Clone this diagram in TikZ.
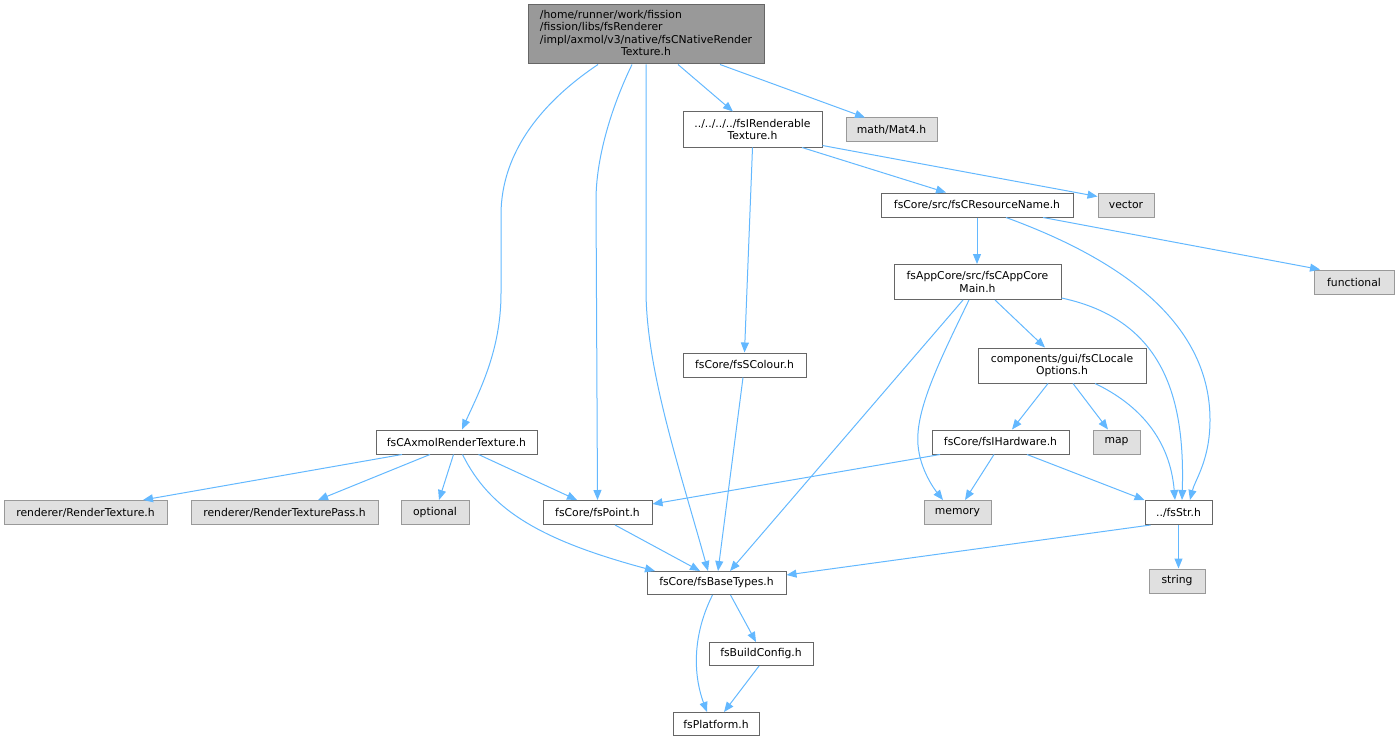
\documentclass[tikz,border=0pt]{standalone}
\usepackage{fontspec}
\newfontfamily\djv{DejaVu Sans}
\usetikzlibrary{arrows.meta}
\definecolor{eb}{HTML}{63B8FF}
\definecolor{bd}{HTML}{666666}
\definecolor{bx}{HTML}{999999}
\definecolor{fe}{HTML}{E0E0E0}
\definecolor{fm}{HTML}{999999}
\tikzset{
  base/.style={draw=bd, line width=1pt, inner sep=0pt, align=center,
    font=\djv\fontsize{10.8}{12.3}\selectfont},
  real/.style={base, fill=white},
  ext/.style={base, draw=bx, fill=fe},
  topnode/.style={base, fill=fm},
  dep/.style={draw=eb, line width=1pt, -{Triangle[length=10pt,width=8pt]}}
}
\begin{document}
\begin{tikzpicture}[x=1pt,y=-1pt]
\useasboundingbox (0,0) rectangle (1399,741);
% nodes
\node[topnode, minimum width=236pt, minimum height=59pt] (main) at (646,34.5)
  {\begin{tabular}{@{}l@{}}/home/runner/work/fission\\/fission/libs/fsRenderer\\/impl/axmol/v3/native/fsCNativeRender\\\multicolumn{1}{@{}c@{}}{Texture.h}\end{tabular}};
\node[real, minimum width=139pt, minimum height=35pt] (rend) at (752.5,129.5) {../../../../fsIRenderable\\Texture.h};
\node[ext, minimum width=91pt, minimum height=23pt] (mat4) at (891.5,129.5) {math/Mat4.h};
\node[real, minimum width=192pt, minimum height=24pt] (resn) at (977,205) {fsCore/src/fsCResourceName.h};
\node[ext, minimum width=56pt, minimum height=24pt] (vec) at (1126,205) {vector};
\node[real, minimum width=167pt, minimum height=35pt] (appc) at (977.5,282) {fsAppCore/src/fsCAppCore\\Main.h};
\node[ext, minimum width=80pt, minimum height=24pt] (func) at (1354,282) {functional};
\node[real, minimum width=168pt, minimum height=35pt] (comp) at (1062,365.5) {components/gui/fsCLocale\\Options.h};
\node[real, minimum width=123pt, minimum height=24pt] (col) at (744.5,365) {fsCore/fsSColour.h};
\node[real, minimum width=161pt, minimum height=24pt] (axm) at (456.5,442) {fsCAxmolRenderTexture.h};
\node[real, minimum width=137pt, minimum height=24pt] (hw) at (1000.5,442) {fsCore/fsIHardware.h};
\node[ext, minimum width=47pt, minimum height=24pt] (map) at (1116.5,442) {map};
\node[ext, minimum width=163pt, minimum height=24pt] (rt) at (85.5,512.5) {renderer/RenderTexture.h};
\node[ext, minimum width=187pt, minimum height=24pt] (rtp) at (284.5,512.5) {renderer/RenderTexturePass.h};
\node[ext, minimum width=68pt, minimum height=24pt] (opt) at (435,512.5) {optional};
\node[real, minimum width=109pt, minimum height=24pt] (pt) at (597.5,512.5) {fsCore/fsPoint.h};
\node[ext, minimum width=67pt, minimum height=24pt] (mem) at (957.5,512.5) {memory};
\node[real, minimum width=67pt, minimum height=24pt] (str) at (1178.5,512.5) {../fsStr.h};
\node[real, minimum width=139pt, minimum height=23pt] (bt) at (716.5,583) {fsCore/fsBaseTypes.h};
\node[ext, minimum width=56pt, minimum height=24pt] (strg) at (1177,581) {string};
\node[real, minimum width=104pt, minimum height=23pt] (bc) at (761,654) {fsBuildConfig.h};
\node[real, minimum width=86pt, minimum height=23pt] (plat) at (716,724) {fsPlatform.h};
% edges
\draw[dep] ([xshift=-48pt]main.south) .. controls (545,100) and (501,150) .. (501,215) -- (501,293) .. controls (501,350) and (480,390) .. ([xshift=5.5pt]axm.north);
\draw[dep] ([xshift=-14pt]main.south) .. controls (610,110) and (596,160) .. (596,200) -- (pt.north);
\draw[dep] (main.south) -- (646,290) .. controls (646,370) and (680,470) .. ([xshift=-8.5pt]bt.north);
\draw[dep] ([xshift=32pt]main.south) -- ([xshift=-19.5pt]rend.north);
\draw[dep] ([xshift=74pt]main.south) -- ([xshift=-26.5pt]mat4.north);
\draw[dep] ([xshift=49.5pt]rend.south) -- ([xshift=-31pt]resn.north);
\draw[dep] ([yshift=2pt]rend.south east) -- ([yshift=-4pt]vec.north west);
\draw[dep] (rend.south) -- (col.north);
\draw[dep] (resn.south) -- (resn.south |- appc.north);
\draw[dep] ([xshift=29pt]resn.south) .. controls (1150,270) and (1210,340) .. (1210,420) .. controls (1210,460) and (1195,480) .. ([xshift=11.5pt]str.north);
\draw[dep] ([xshift=66pt]resn.south) -- ([xshift=-34pt]func.north);
\draw[dep] ([xshift=17.5pt]appc.south) -- ([xshift=-17pt]comp.north);
\draw[dep] ([yshift=2pt]appc.south east) .. controls (1165,320) and (1185,400) .. ([xshift=3.5pt]str.north);
\draw[dep] ([xshift=-8.5pt]appc.south) .. controls (940,360) and (915,410) .. (918,445) .. controls (920,470) and (935,490) .. ([xshift=-14.5pt]mem.north);
\draw[dep] ([xshift=-14.5pt]appc.south) -- ([xshift=13.5pt]bt.north);
\draw[dep] ([xshift=-14pt]comp.south) -- ([xshift=11.5pt]hw.north);
\draw[dep] ([xshift=11pt]comp.south) -- ([xshift=-8.5pt]map.north);
\draw[dep] ([xshift=33pt]comp.south) .. controls (1140,405) and (1170,440) .. ([xshift=-3.5pt]str.north);
\draw[dep] ([xshift=-60.5pt]hw.south) -- ([yshift=-4pt]pt.north east);
\draw[dep] ([xshift=-6.5pt]hw.south) -- ([xshift=7.5pt]mem.north);
\draw[dep] ([xshift=26.5pt]hw.south) -- (str.north west);
\draw[dep] ([xshift=-54.5pt]axm.south) -- ([xshift=57.5pt]rt.north);
\draw[dep] ([xshift=-26.5pt]axm.south) -- ([xshift=33.5pt]rtp.north);
\draw[dep] ([xshift=-3pt]axm.south) -- ([xshift=4pt]opt.north);
\draw[dep] ([xshift=22pt]axm.south) -- ([xshift=-20.5pt]pt.north);
\draw[dep] ([xshift=6pt]axm.south) .. controls (490,510) and (540,540) .. ([xshift=-61.5pt]bt.north);
\draw[dep] ([xshift=17.5pt]pt.south) -- ([xshift=-16.5pt]bt.north);
\draw[dep] ([xshift=-1.5pt]col.south) -- ([xshift=1.5pt]bt.north);
\draw[dep] ([xshift=-28pt]str.south) -- ([yshift=-4pt]bt.north east);
\draw[dep] (str.south) -- (str.south |- strg.north);
\draw[dep] ([xshift=14pt]bt.south) -- ([xshift=-5pt]bc.north);
\draw[dep] ([xshift=-4pt]bt.south) .. controls (690,640) and (695,680) .. ([xshift=-9pt]plat.north);
\draw[dep] ([xshift=-2pt]bc.south) -- ([xshift=8pt]plat.north);
\end{tikzpicture}
\end{document}
